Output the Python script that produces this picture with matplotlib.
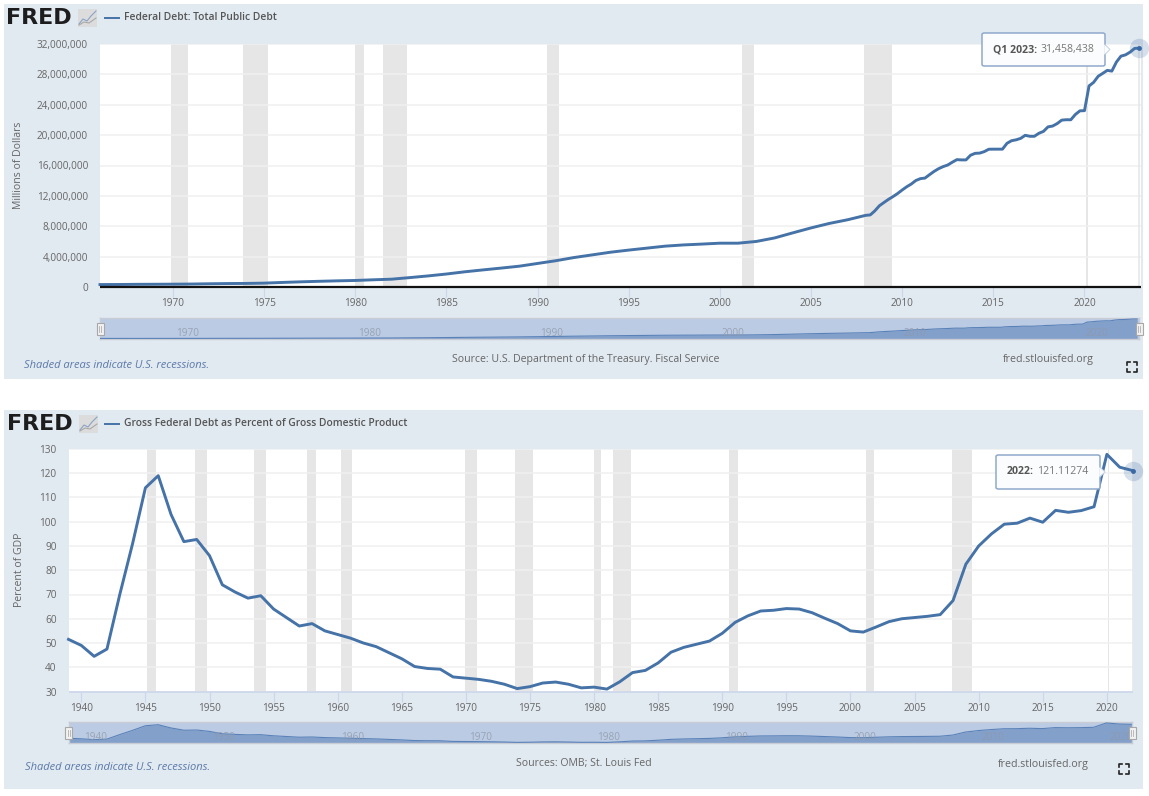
import matplotlib
matplotlib.use("Agg")
import matplotlib.pyplot as plt
from matplotlib.patches import Rectangle, FancyBboxPatch, Polygon
from matplotlib.lines import Line2D

W, H = 1149, 796
plt.rcParams['font.family'] = ['Open Sans', 'DejaVu Sans']

# ---- data -----
debt_years = [1966, 1967, 1968, 1969, 1970, 1971, 1972, 1973, 1974, 1975, 1976, 1977, 1978, 1979,
              1980, 1981, 1982, 1983, 1984, 1985, 1986, 1987, 1988, 1989, 1990, 1991, 1992, 1993,
              1994, 1995, 1996, 1997, 1998, 1999, 2000, 2001, 2002, 2003, 2004, 2005, 2006, 2007,
              2008, 2008.25, 2008.5, 2008.75, 2009, 2009.25, 2009.5, 2009.75,
              2010, 2010.25, 2010.5, 2010.75, 2011, 2011.25, 2011.5, 2011.75,
              2012, 2012.25, 2012.5, 2012.75, 2013, 2013.25, 2013.5, 2013.75,
              2014, 2014.25, 2014.5, 2014.75, 2015, 2015.25, 2015.5, 2015.75,
              2016, 2016.25, 2016.5, 2016.75, 2017, 2017.25, 2017.5, 2017.75,
              2018, 2018.25, 2018.5, 2018.75, 2019, 2019.25, 2019.5, 2019.75,
              2020, 2020.25, 2020.5, 2020.75, 2021, 2021.25, 2021.5, 2021.75,
              2022, 2022.25, 2022.5, 2022.75, 2023]
debt_values = [320000, 330000, 350000, 360000, 372000, 390000, 425000, 455000, 470000, 510000,
               600000, 680000, 750000, 810000, 860000, 950000, 1030000, 1240000, 1460000, 1710000,
               2000000, 2250000, 2490000, 2740000, 3100000, 3460000, 3880000, 4230000, 4580000,
               4860000, 5120000, 5380000, 5540000, 5650000, 5770000, 5770000, 6000000, 6460000,
               7130000, 7780000, 8370000, 8850000,
               9437000, 9492000, 10025000, 10700000, 11127000, 11545000, 11910000, 12311000,
               12773000, 13202000, 13562000, 14025000, 14270000, 14343000, 14790000, 15222000,
               15582000, 15856000, 16066000, 16433000, 16771000, 16738000, 16738000, 17352000,
               17601000, 17632000, 17824000, 18141000, 18152000, 18152000, 18153000, 18922000,
               19264000, 19381000, 19573000, 19977000, 19846000, 19845000, 20245000, 20493000,
               21089000, 21195000, 21516000, 21974000, 22028000, 22023000, 22719000, 23201000,
               23224000, 26477000, 26945000, 27748000, 28133000, 28529000, 28429000, 29617000,
               30401000, 30569000, 30929000, 31420000, 31458438]

gdp_years = list(range(1939, 2023))
gdp_values = [51.5, 49, 44.5, 47.5, 70, 91, 114, 119, 103, 91.8, 92.7, 86, 74, 71, 68.5, 69.5, 64,
              60.5, 57, 58, 55, 53.5, 52, 50, 48.5, 46, 43.5, 40.3, 39.5, 39.2, 36, 35.5, 35, 34.2,
              33, 31.2, 32, 33.5, 33.9, 33, 31.5, 31.8, 31, 34, 37.8, 38.7, 41.8, 46.2, 48.2, 49.5,
              50.8, 54, 58.5, 61.2, 63.2, 63.5, 64.2, 64, 62.5, 60.2, 58, 55, 54.5, 56.6, 58.8, 60,
              60.5, 61, 61.7, 67.5, 82.5, 90, 95, 99, 99.4, 101.5, 99.8, 104.7, 103.9, 104.6, 106.2,
              127.8, 122.5, 121.11274]

rec_start = [1945.1, 1948.85, 1953.5, 1957.6, 1960.25, 1969.9, 1973.85, 1980.0, 1981.5, 1990.5, 2001.2, 2007.9, 2020.06]
rec_end = [1945.8, 1949.8, 1954.4, 1958.3, 1961.1, 1970.85, 1975.2, 1980.5, 1982.85, 1991.2, 2001.85, 2009.45, 2020.2]

debt_ticks = [0, 4000000, 8000000, 12000000, 16000000, 20000000, 24000000, 28000000, 32000000]
gdp_ticks = [30, 40, 50, 60, 70, 80, 90, 100, 110, 120, 130]
debt_xticks = [1970, 1975, 1980, 1985, 1990, 1995, 2000, 2005, 2010, 2015, 2020]
gdp_xticks = [1940, 1945, 1950, 1955, 1960, 1965, 1970, 1975, 1980, 1985, 1990, 1995, 2000, 2005, 2010, 2015, 2020]
debt_nav_ticks = [1970, 1980, 1990, 2000, 2010, 2020]
gdp_nav_ticks = [1940, 1950, 1960, 1970, 1980, 1990, 2000, 2010, 2020]

# ---- styles ----
PANEL = '#e1e9f1'
LINE = '#4572a7'
GREY = '#666666'
GRID = '#f0f0f0'
REC = '#e6e6e6'
AXLINE = '#ccd6eb'

fig = plt.figure(figsize=(W / 100, H / 100), dpi=100, facecolor='white')


def box(x0, y0, x1, y1):
    return [x0 / W, 1 - y1 / H, (x1 - x0) / W, (y1 - y0) / H]


def ftext(x, y, s, **kw):
    kw.setdefault('color', GREY)
    kw.setdefault('fontsize', 7.2)
    kw.setdefault('va', 'center')
    fig.text(x / W, 1 - y / H, s, **kw)


def fline(xs, ys, **kw):
    fig.add_artist(Line2D([x / W for x in xs], [1 - y / H for y in ys], transform=fig.transFigure, **kw))


def frect(x0, y0, x1, y1, **kw):
    fig.add_artist(Rectangle((x0 / W, 1 - y1 / H), (x1 - x0) / W, (y1 - y0) / H,
                             transform=fig.transFigure, **kw))


def panel(pbox, plot_box, nav_box, xs, ys, xlim, ylim, yticks, ylabels, xticks, nav_ticks,
          title, ylabel, ylab_xy, source, source_xy, site_xy, shaded_xy, full_xy,
          axis_color, axis_lw, tip_box, tip_bold, tip_val, logo_x, legend_x):
    frect(*pbox, facecolor=PANEL, edgecolor='none', zorder=-5)

    # main plot
    ax = fig.add_axes(box(*plot_box), facecolor='white')
    ax.set_xlim(*xlim)
    ax.set_ylim(*ylim)
    ax.set_yticks(yticks, ylabels)
    ax.set_xticks(xticks, [str(t) for t in xticks])
    ax.grid(axis='y', color=GRID, lw=1.1, zorder=1)
    ax.grid(axis='x', visible=False)
    for s, r in zip(rec_start, rec_end):
        if r > xlim[0]:
            ax.axvspan(s, r, facecolor=REC, edgecolor='none', zorder=1.5)
    ax.axvline(xs[-1], color='#e8e8e8', lw=1.2, zorder=1.6)
    ax.plot(xs, ys, color=LINE, lw=2.1, zorder=3, solid_joinstyle='round', clip_on=False)
    ax.plot(xs[-1], ys[-1], 'o', ms=14, color='#4572a7', alpha=0.22, mec='none', zorder=4, clip_on=False)
    ax.plot(xs[-1], ys[-1], 'o', ms=3.5, color='#3a69a5', mec='none', zorder=5, clip_on=False)
    for sp in ('top', 'left', 'right'):
        ax.spines[sp].set_visible(False)
    ax.spines['bottom'].set_color(axis_color)
    ax.spines['bottom'].set_linewidth(axis_lw)
    ax.spines['bottom'].set_zorder(6)
    ax.tick_params(axis='y', length=0, pad=8.6, labelsize=7.2, labelcolor=GREY)
    ax.tick_params(axis='x', length=7, width=0.8, color=AXLINE, pad=1, labelsize=7.2, labelcolor=GREY)
    ax.spines['bottom'].set_capstyle('butt')

    # navigator
    nav = fig.add_axes(box(*nav_box), facecolor='#bccbe4')
    nav.set_xlim(*xlim)
    lo, hi = min(ys), max(ys)
    pad = (hi - lo) * 0.05
    nav.set_ylim(lo - pad * 0.6, hi + pad)
    nav.fill_between(xs, lo - pad, ys, color='#83a0cb', lw=0, zorder=2)
    nav.plot(xs, ys, color='#5a82b8', lw=0.8, zorder=3)
    nav.set_xticks([])
    nav.set_yticks([])
    for sp in nav.spines.values():
        sp.set_color('#c8ccd4')
        sp.set_linewidth(1)
    for t in nav_ticks:
        nav.annotate(str(t), (t, 0.5), xycoords=nav.get_xaxis_transform(), xytext=(2.2, -3.5),
                     textcoords='offset points', fontsize=7.2, color='#8f99a8', alpha=0.8,
                     va='center', ha='left', zorder=4)
    hy0, hy1 = nav_box[1] + 4.5, nav_box[3] - 4
    for hx in (nav_box[0], nav_box[2]):
        frect(hx - 3.5, hy0, hx + 3.5, hy1, facecolor='#f2f2f2', edgecolor='#a8a8a8', lw=0.8, zorder=8)
        fline([hx - 1, hx - 1], [hy0 + 3, hy1 - 3], color='#b0b0b0', lw=0.6, zorder=9)
        fline([hx + 1, hx + 1], [hy0 + 3, hy1 - 3], color='#b0b0b0', lw=0.6, zorder=9)

    # header: logo + legend
    ly = pbox[1] + 14
    ftext(logo_x, ly + 0.5, 'FRED', fontsize=16, fontweight='bold', color='#1d1d1d',
          family=['DejaVu Sans'])
    ix0 = logo_x + 72
    frect(ix0, ly - 9, ix0 + 19, ly + 9, facecolor='#dcdcdc', edgecolor='none', zorder=3)
    fline([ix0 + 1, ix0 + 5, ix0 + 9, ix0 + 13, ix0 + 18], [ly + 6, ly + 1, ly + 3, ly - 2, ly - 7],
          color='#8ba3c4', lw=0.8, zorder=4)
    fline([ix0 + 1, ix0 + 6, ix0 + 11, ix0 + 18], [ly + 7, ly + 4, ly + 5, ly],
          color='#a9a9a9', lw=0.8, zorder=4)
    fline([legend_x, legend_x + 14], [ly, ly], color=LINE, lw=1.4)
    ftext(legend_x + 19, ly, title, fontsize=7.4, fontweight='semibold', color='#555555')

    # side & footer text
    ftext(ylab_xy[0], ylab_xy[1], ylabel, rotation=90, ha='center', fontsize=7.6)
    ftext(source_xy[0], source_xy[1], source, ha='center', fontsize=7.6)
    ftext(site_xy[0], site_xy[1], 'fred.stlouisfed.org', ha='left', fontsize=7.7)
    ftext(shaded_xy[0], shaded_xy[1], 'Shaded areas indicate U.S. recessions.', ha='left',
          fontsize=8, style='italic', color='#5c7aa8')

    # full screen icon
    fx, fy = full_xy
    for sx in (-1, 1):
        for sy in (-1, 1):
            fline([fx + sx * 5, fx + sx * 5, fx + sx * 2], [fy + sy * 2, fy + sy * 5, fy + sy * 5],
                  color='#222222', lw=1.2)

    # tooltip
    tx0, ty0, tx1, ty1 = tip_box
    tm = (ty0 + ty1) / 2
    fig.add_artist(FancyBboxPatch((tx0 / W, 1 - ty1 / H), (tx1 - tx0) / W, (ty1 - ty0) / H,
                                  boxstyle='round,pad=0,rounding_size=0.002',
                                  transform=fig.transFigure, facecolor='#fbfcfd',
                                  edgecolor='#8fa9cc', lw=1.1, zorder=10))
    fig.add_artist(Polygon([((tx1 - 0.8) / W, 1 - (tm - 5) / H), ((tx1 + 5) / W, 1 - tm / H),
                            ((tx1 - 0.8) / W, 1 - (tm + 5) / H)], transform=fig.transFigure,
                           facecolor='#fbfcfd', edgecolor='none', zorder=11))
    fline([tx1, tx1 + 5, tx1], [tm - 5, tm, tm + 5], color='#c5d2e4', lw=0.7, zorder=11)
    tb = fig.text((tx0 + 11) / W, 1 - tm / H, tip_bold, fontsize=7.6, fontweight='bold',
                  color='#555555', va='center', zorder=12)
    fig.canvas.draw()
    ext = tb.get_window_extent()
    fig.text((ext.x1 + 3) / W, 1 - tm / H, tip_val, fontsize=7.6, color='#777777', va='center', zorder=12)


panel((4, 4, 1143, 379), (100, 44, 1141, 287), (100, 318, 1139, 339),
      debt_years, debt_values, (1966.0, 2023.1), (0, 32000000), debt_ticks,
      [f'{t:,}' for t in debt_ticks], debt_xticks, debt_nav_ticks,
      'Federal Debt: Total Public Debt', 'Millions of Dollars', (18.5, 165),
      'Source: U.S. Department of the Treasury. Fiscal Service', (586, 360), (1003, 360), (24, 365), (1132, 367),
      '#111111', 1.6, (982, 33, 1105, 66), 'Q1 2023:', '31,458,438', 6, 105)

panel((4, 410, 1143, 789), (68.5, 449, 1132.5, 691.5), (68.5, 722, 1132, 743),
      gdp_years, gdp_values, (1939, 2022), (30, 130), gdp_ticks,
      [str(t) for t in gdp_ticks], gdp_xticks, gdp_nav_ticks,
      'Gross Federal Debt as Percent of Gross Domestic Product', 'Percent of GDP', (19.5, 570),
      'Sources: OMB; St. Louis Fed', (584, 763.5), (998, 764), (25, 768), (1124, 769),
      AXLINE, 1.2, (996, 455, 1100, 489), '2022:', '121.11274', 7, 105)

fig.savefig('out.png', dpi=100, facecolor='white')
